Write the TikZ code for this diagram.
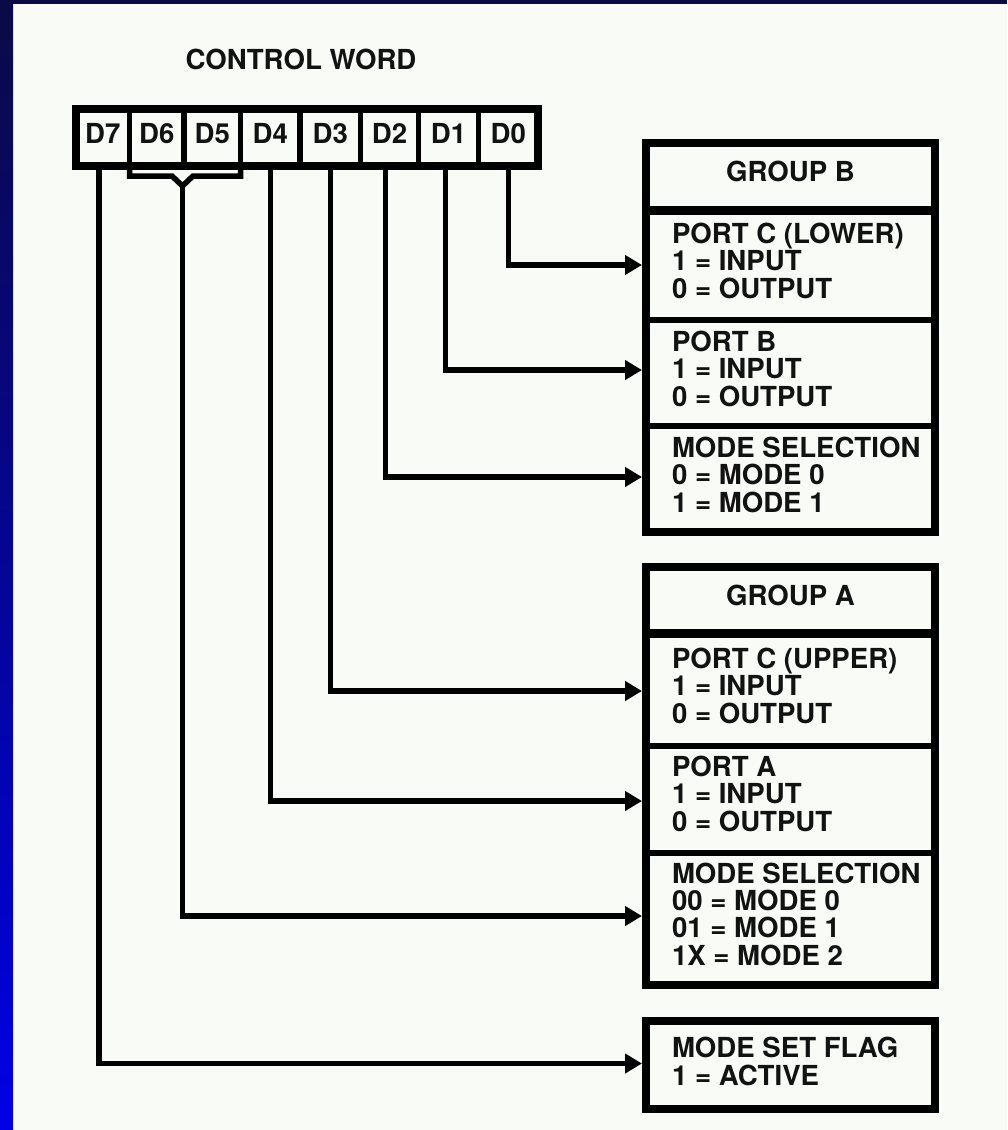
\documentclass[tikz,border=0pt]{standalone}
\usepackage{fontspec}
\setmainfont{TeX Gyre Heros}
\usetikzlibrary{arrows.meta}
\definecolor{bg}{RGB}{249,251,247}
\definecolor{navy}{RGB}{10,10,70}
\definecolor{bandblue}{RGB}{0,0,230}
\definecolor{ink}{RGB}{18,18,18}
\begin{document}
\begin{tikzpicture}[x=1pt,y=-1pt,
  every node/.style={font=\fontsize{27.6}{27.3}\selectfont\bfseries, text=ink, inner sep=0, outer sep=0},
  frame/.style={draw=black, line width=8, minimum width=289},
  cell/.style={draw=black, line width=5.5, minimum height=57, text height=19, text depth=8},
  conn/.style={line width=5.5, draw=black, line join=miter},
  arr/.style={conn, -{Triangle[length=17pt,width=19pt]}},
  txt/.style={anchor=base west, align=left},
]
\useasboundingbox (0,0) rectangle (1007,1130);
% background
\fill[bg] (0,0) rectangle (1007,1130);
\shade[top color=navy, bottom color=bandblue] (0,0) rectangle (13,1130);
\fill[navy] (0,0) rectangle (1007,4);

% targets on the box edges
\coordinate (inPCL) at (642,265);
\coordinate (inPB)  at (642,370);
\coordinate (inMSB) at (642,477);
\coordinate (inPCU) at (642,691);
\coordinate (inPA)  at (642,801);
\coordinate (inMSA) at (642,916);
\coordinate (inMSF) at (642,1063.5);
\coordinate (br) at (182.5,186);

% cells
\node (d7) [cell, minimum width=53.5] at (102.75,137.5) {D7};
\node (d6) [cell, minimum width=54.5] at (156.75,137.5) {D6};
\node (d5) [cell, minimum width=56.5] at (212.25,137.5) {D5};
\node (d4) [cell, minimum width=59.5] at (270.25,137.5) {D4};
\node (d3) [cell, minimum width=60.5] at (330.25,137.5) {D3};
\node (d2) [cell, minimum width=58]   at (389.5,137.5)  {D2};
\node (d1) [cell, minimum width=60]   at (448.5,137.5)  {D1};
\node (d0) [cell, minimum width=59.5] at (508.25,137.5) {D0};
\node (cw) [frame, minimum width=462, minimum height=57] at (307,137.5) {};
\node (cwt) [anchor=base] at (301,69) {CONTROL WORD};

% bracket for D6/D5
\draw[conn] (d6.south west) -- (129.5,176) -- (172,176) -- (br) -- (193,176) -- (240.5,176) -- (d5.south east);

% connectors
\draw[arr] (d0.south) |- (inPCL);
\draw[arr] ([xshift=-3pt]d1.south) |- (inPB);
\draw[arr] ([xshift=-4pt]d2.south) |- (inMSB);
\draw[arr] (d3.south) |- (inPCU);
\draw[arr] (d4.south) |- (inPA);
\draw[arr] (br) |- (inMSA);
\draw[arr] ([xshift=-4pt]d7.south) |- (inMSF);

% group B
\node (gB) [frame, minimum height=389] at (790.5,337.5) {};
\draw[line width=9] (646,210.5) -- (935,210.5);
\draw[line width=6] (646,320) -- (935,320);
\draw[line width=6] (646,426) -- (935,426);
\node (tB) [anchor=base] at (790.5,181) {GROUP B};
\node (pcl) [txt] at (672,298) {PORT C (LOWER)\\1 = INPUT\\0 = OUTPUT};
\node (pb)  [txt] at (672,406) {PORT B\\1 = INPUT\\0 = OUTPUT};
\node (msb) [txt] at (672,512) {MODE SELECTION\\0 = MODE 0\\1 = MODE 1};

% group A
\node (gA) [frame, minimum height=418] at (790.5,776) {};
\draw[line width=9] (646,633.5) -- (935,633.5);
\draw[line width=6] (646,746) -- (935,746);
\draw[line width=6] (646,852.5) -- (935,852.5);
\node (tA) [anchor=base] at (790.5,605) {GROUP A};
\node (pcu) [txt] at (672,723) {PORT C (UPPER)\\1 = INPUT\\0 = OUTPUT};
\node (pa)  [txt] at (672,831) {PORT A\\1 = INPUT\\0 = OUTPUT};
\node (msa) [txt] at (672,965) {MODE SELECTION\\00 = MODE 0\\01 = MODE 1\\1X = MODE 2};

% mode set flag
\node (msfbox) [frame, minimum height=88] at (790.5,1065) {};
\node (msf) [txt] at (672,1085) {MODE SET FLAG\\1 = ACTIVE};
\end{tikzpicture}
\end{document}
